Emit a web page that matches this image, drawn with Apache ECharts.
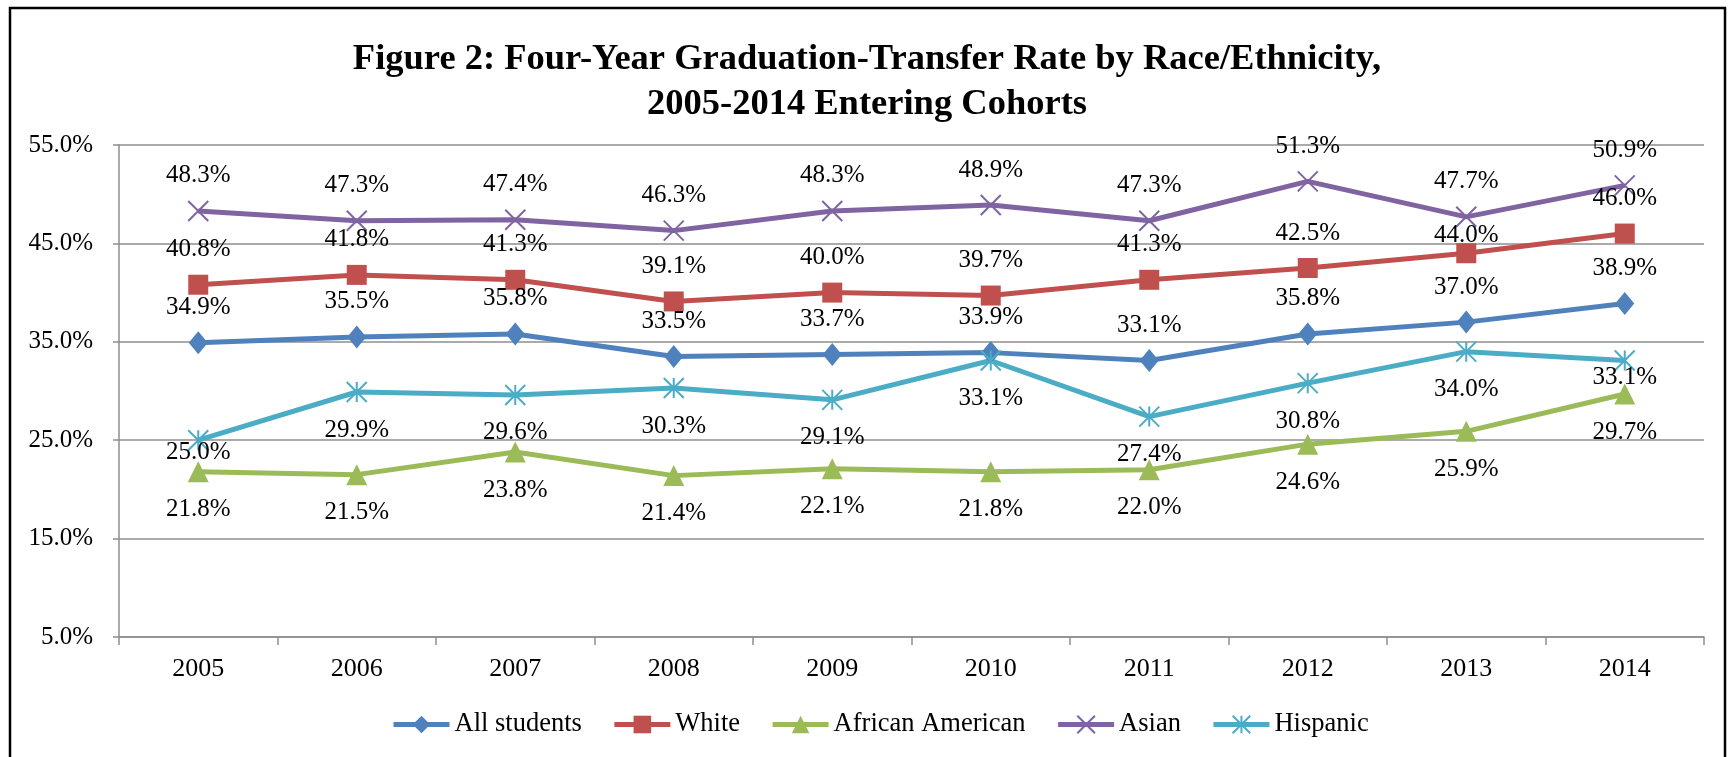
<!DOCTYPE html>
<html>
<head>
<meta charset="utf-8">
<script src="https://cdn.jsdelivr.net/npm/echarts@6/dist/echarts.min.js"></script>
<style>
  html, body { margin: 0; padding: 0; background: #fff; }
  #chart { width: 1730px; height: 757px; }
</style>
</head>
<body>
<div id="chart"></div>
<script>
const years = ['2005', '2006', '2007', '2008', '2009', '2010', '2011', '2012', '2013', '2014']
const allStudents = [34.9, 35.5, 35.8, 33.5, 33.7, 33.9, 33.1, 35.8, 37.0, 38.9]
const white = [40.8, 41.8, 41.3, 39.1, 40.0, 39.7, 41.3, 42.5, 44.0, 46.0]
const africanAmerican = [21.8, 21.5, 23.8, 21.4, 22.1, 21.8, 22.0, 24.6, 25.9, 29.7]
const asian = [48.3, 47.3, 47.4, 46.3, 48.3, 48.9, 47.3, 51.3, 47.7, 50.9]
const hispanic = [25.0, 29.9, 29.6, 30.3, 29.1, 33.1, 27.4, 30.8, 34.0, 33.1]
const yMin = 5
const yMax = 55
const yStep = 10

const serif = '"Times New Roman", "Liberation Serif", serif'
const gridGray = '#8e8e8e'

// labels sit above or below the point; a few were moved by hand in the original
const ABOVE = -35
const BELOW = 38
const nudges = {
  White: { 8: -18 },
  Hispanic: { 0: 12, 9: 17 },
}

function line(name, values, color, symbol, symbolSize, dy, stroke) {
  const nudge = nudges[name] || {}
  return {
    name,
    type: 'line',
    data: values.map((v, i) =>
      nudge[i] != null ? { value: v, label: { offset: [0, nudge[i]] } } : v,
    ),
    symbol,
    symbolSize,
    lineStyle: { width: 5, color },
    itemStyle: stroke
      ? { color, borderColor: color, borderWidth: 2 }
      : { color },
    label: {
      show: true,
      position: 'inside',
      offset: [0, dy],
      color: '#000',
      fontFamily: serif,
      fontSize: 25,
      formatter: (p) => p.value.toFixed(1) + '%',
    },
    emphasis: { disabled: true },
    animation: false,
  }
}

const chart = echarts.init(document.getElementById('chart'), null, { renderer: 'canvas' })
chart.setOption({
  backgroundColor: '#fff',
  title: {
    text: 'Figure 2: Four-Year Graduation-Transfer Rate by Race/Ethnicity,\n2005-2014 Entering Cohorts',
    left: 862,
    top: 32,
    textAlign: 'center',
    textStyle: {
      fontFamily: serif,
      fontWeight: 'bold',
      fontSize: 36.5,
      lineHeight: 45,
      color: '#000',
    },
  },
  graphic: [
    {
      type: 'rect',
      shape: { x: 10, y: 8, width: 1715, height: 760 },
      style: { fill: 'none', stroke: '#000', lineWidth: 2.5 },
      silent: true,
    },
  ],
  legend: {
    top: 706,
    left: 386,
    itemWidth: 56,
    itemHeight: 22,
    itemGap: 30,
    lineStyle: { width: 5 },
    textStyle: { fontFamily: serif, fontSize: 26.5, color: '#000' },
    data: ['All students', 'White', 'African American', 'Asian', 'Hispanic'],
  },
  grid: { left: 119, right: 26, top: 145, bottom: 120, outerBoundsMode: 'none' },
  xAxis: {
    type: 'category',
    data: years,
    boundaryGap: true,
    axisLine: { lineStyle: { color: gridGray, width: 1.5 } },
    axisTick: { show: true, length: 8, lineStyle: { color: gridGray, width: 1.5 } },
    axisLabel: { margin: 19, fontFamily: serif, fontSize: 26, color: '#000' },
  },
  yAxis: {
    type: 'value',
    min: yMin,
    max: yMax,
    interval: yStep,
    axisLine: { show: true, lineStyle: { color: gridGray, width: 1.5 } },
    axisTick: { show: true, length: 6, lineStyle: { color: gridGray, width: 1.5 } },
    splitLine: { lineStyle: { color: gridGray, width: 1.5 } },
    axisLabel: {
      margin: 26,
      fontFamily: serif,
      fontSize: 25,
      color: '#000',
      formatter: (v) => v.toFixed(1) + '%',
    },
  },
  series: [
    line('All students', allStudents, '#4F81BD', 'diamond', [19, 23], ABOVE),
    line('White', white, '#C0504D', 'rect', 20, ABOVE),
    line('African American', africanAmerican, '#9BBB59', 'triangle', 21, BELOW),
    line('Asian', asian, '#8064A2', 'path://M0,0L10,10M10,0L0,10', 20, ABOVE, true),
    line('Hispanic', hispanic, '#4BACC6', 'path://M5,0L5,10M0,0L10,10M10,0L0,10', 20, BELOW, true),
  ],
})
</script>
</body>
</html>
